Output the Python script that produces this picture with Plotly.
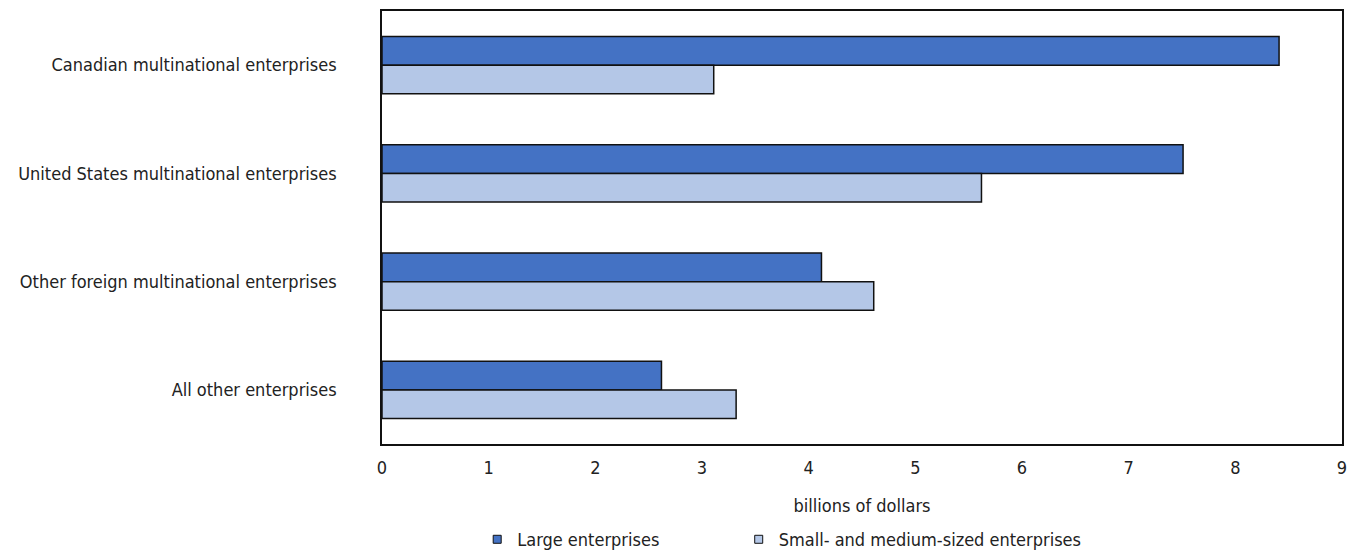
import plotly.graph_objects as go

categories = [
    "Canadian multinational enterprises",
    "United States multinational enterprises",
    "Other foreign multinational enterprises",
    "All other enterprises",
]
large_values = [8.41, 7.51, 4.12, 2.62]
sme_values = [3.11, 5.62, 4.61, 3.32]
x_ticks = [0, 1, 2, 3, 4, 5, 6, 7, 8, 9]
series_names = ["Large enterprises", "Small- and medium-sized enterprises"]
series_colors = ["#4472C4", "#B4C7E7"]

FONT = "Liberation Sans Narrow, DejaVu Sans Condensed, Arial Narrow, sans-serif"
FS = 18
TXT = "#222222"
EDGE = "#111111"

fig = go.Figure()
for vals, name, col in zip([large_values, sme_values], series_names, series_colors):
    fig.add_trace(go.Bar(
        y=categories, x=vals, orientation="h", name=name, showlegend=False,
        marker=dict(color=col, line=dict(color=EDGE, width=1.5)),
    ))

# legend-only entries with small square swatches
for i, (name, col) in enumerate(zip(series_names, series_colors)):
    fig.add_trace(go.Scatter(
        x=[None], y=[None], mode="markers", name=name,
        legend="legend" if i == 0 else "legend2",
        marker=dict(symbol="square", size=8, color=col,
                    line=dict(color=EDGE, width=1)),
    ))

legend_common = dict(
    orientation="h", yanchor="middle", y=0.026, yref="container",
    xanchor="left", xref="container",
    font=dict(family=FONT, size=FS, color=TXT),
    bgcolor="rgba(0,0,0,0)", itemwidth=30,
)

fig.update_layout(
    width=1348, height=554,
    margin=dict(l=382, r=6, t=11, b=110),
    barmode="group", bargap=0.47, bargroupgap=0,
    plot_bgcolor="white", paper_bgcolor="white",
    font=dict(family=FONT, size=FS, color=TXT),
    showlegend=True,
    legend=dict(x=0.354, **legend_common),
    legend2=dict(x=0.548, **legend_common),
)
fig.update_xaxes(
    range=[0, 9], tickvals=x_ticks, ticktext=[str(t) for t in x_ticks],
    showgrid=False, zeroline=False, automargin=False,
    showline=True, linecolor=EDGE, linewidth=1.5, mirror=True,
    ticks="", ticklabelstandoff=7,
    title=dict(text="billions of dollars", standoff=22,
               font=dict(family=FONT, size=FS, color=TXT)),
    fixedrange=True,
)
fig.update_yaxes(
    categoryorder="array", categoryarray=categories,
    autorange="reversed", automargin=False,
    showgrid=False, zeroline=False,
    showline=True, linecolor=EDGE, linewidth=1.5, mirror=True,
    ticks="", ticklabelstandoff=40,
    fixedrange=True,
)

fig.write_html("out.html", config={"displayModeBar": False},
               post_script="document.body.style.margin='0';")
